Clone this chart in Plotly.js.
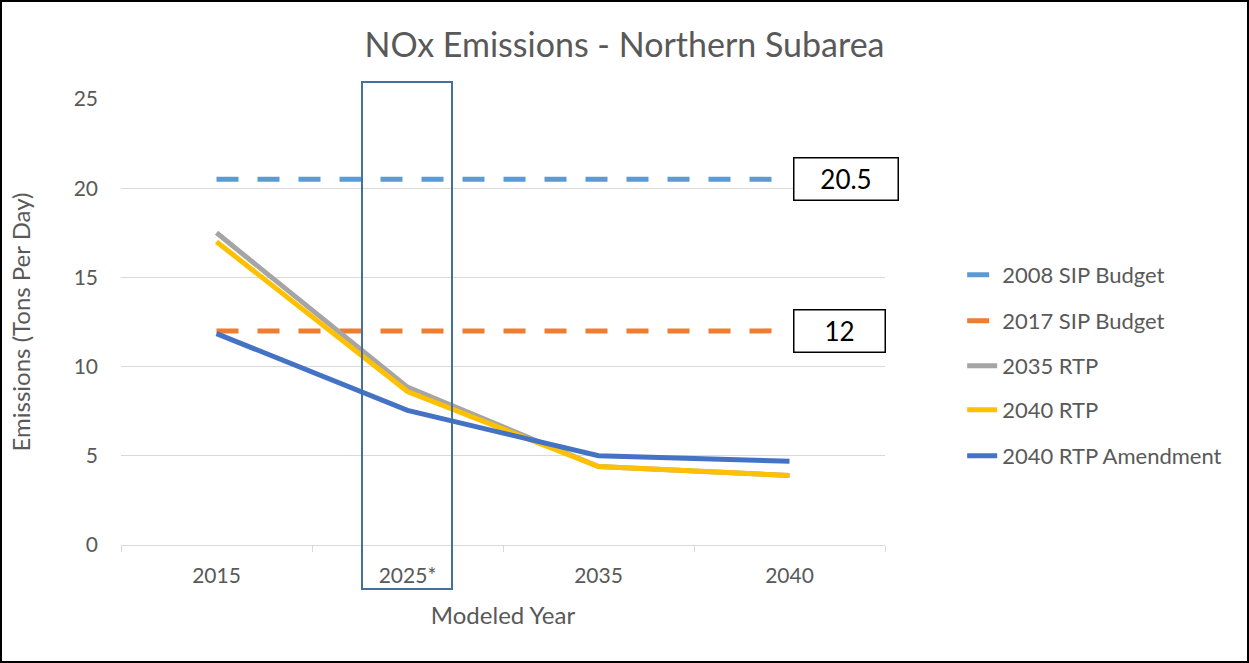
<!DOCTYPE html>
<html>
<head>
<meta charset="utf-8">
<script src="https://cdn.plot.ly/plotly-3.0.1.min.js"></script>
<style>
html,body{margin:0;padding:0;background:#fff;}
#wrap{position:relative;width:1249px;height:663px;}
#chart{width:1249px;height:663px;}
#frame{position:absolute;left:0;top:0;width:1249px;height:663px;box-sizing:border-box;border:2px solid #000;pointer-events:none;}
</style>
</head>
<body>
<div id="wrap"><div id="chart"></div><div id="frame"></div></div>
<script>
const years = ["2015", "2025*", "2035", "2040"];
const sip2008 = [20.5, 20.5, 20.5, 20.5];
const sip2017 = [12, 12, 12, 12];
const rtp2035 = [17.5, 8.85, 4.4, 3.9];
const rtp2040 = [17.0, 8.6, 4.4, 3.9];
const rtp2040Amend = [11.85, 7.55, 5.0, 4.7];
const budgetLabels = ["20.5", "12"];
const budgetValues = [20.5, 12];

const FONT = "Lato, 'Open Sans', sans-serif";
const TXT = "#595959";
const legendY = [0.6054, 0.5022, 0.4013, 0.3027, 0.1996];
const legendX = 1.101;

function tr(y, name, color, dash, legendId) {
  return {
    x: years, y: y, name: name, type: "scatter", mode: "lines",
    line: {color: color, width: 5, dash: dash},
    legend: legendId, hoverinfo: "skip"
  };
}

const data = [
  tr(sip2008, "2008 SIP Budget", "#5B9BD5", "22px,19px", "legend"),
  tr(sip2017, "2017 SIP Budget", "#ED7D31", "22px,19px", "legend2"),
  tr(rtp2035, "2035 RTP", "#A5A5A5", "solid", "legend3"),
  tr(rtp2040, "2040 RTP", "#FFC000", "solid", "legend4"),
  tr(rtp2040Amend, "2040 RTP Amendment", "#4472C4", "solid", "legend5")
];

function leg(i) {
  return {x: legendX, y: legendY[i], xanchor: "left", yanchor: "middle",
    xref: "paper", yref: "paper", bgcolor: "rgba(0,0,0,0)",
    font: {family: FONT, size: 22, color: TXT}};
}

const layout = {
  width: 1249, height: 663,
  margin: {l: 121, r: 364, t: 99, b: 118},
  paper_bgcolor: "#fff", plot_bgcolor: "#fff",
  font: {family: FONT, color: TXT},
  title: {text: "NOx Emissions - Northern Subarea", x: 0.5, xref: "container", xanchor: "center",
    y: 0.932, yref: "container", yanchor: "middle",
    font: {family: FONT, size: 34, color: TXT}},
  xaxis: {
    type: "category", range: [-0.5, 3.5], tickson: "boundaries",
    showgrid: false, showline: true, linecolor: "#D9D9D9", linewidth: 1,
    ticks: "outside", ticklen: 6, tickcolor: "#D9D9D9", ticklabelstandoff: 12,
    tickfont: {family: FONT, size: 21, color: TXT},
    title: {text: "Modeled Year", font: {family: FONT, size: 24, color: TXT}, standoff: 20},
    fixedrange: true
  },
  yaxis: {
    range: [0, 25], dtick: 5, showgrid: true, gridcolor: "#D9D9D9", gridwidth: 1,
    zeroline: false, showline: false, ticks: "", ticklabelstandoff: 22,
    tickfont: {family: FONT, size: 21, color: TXT},
    title: {text: "Emissions (Tons Per Day)", font: {family: FONT, size: 24, color: TXT}, standoff: 36},
    fixedrange: true
  },
  legend: leg(0), legend2: leg(1), legend3: leg(2), legend4: leg(3), legend5: leg(4),
  shapes: [
    {type: "rect", xref: "paper", yref: "paper",
      x0: (362 - 121) / 764, x1: (452 - 121) / 764,
      y0: (545 - 589) / 446, y1: (545 - 82) / 446,
      line: {color: "#41719C", width: 2}, fillcolor: "rgba(0,0,0,0)", layer: "above"}
  ],
  annotations: budgetLabels.map((t, i) => ({
    text: t, xref: "paper", yref: "y", x: (793 - 121) / 764, y: budgetValues[i],
    xanchor: "left", yanchor: "middle", showarrow: false,
    width: i === 0 ? 101 : 88, height: 39, align: "center", valign: "middle",
    bordercolor: "#000", borderwidth: 1.5, borderpad: 1, bgcolor: "#fff",
    font: {family: FONT, size: 26, color: "#000"}
  })),
  showlegend: true
};

Plotly.newPlot("chart", data, layout, {displayModeBar: false, staticPlot: true});
</script>
</body>
</html>
